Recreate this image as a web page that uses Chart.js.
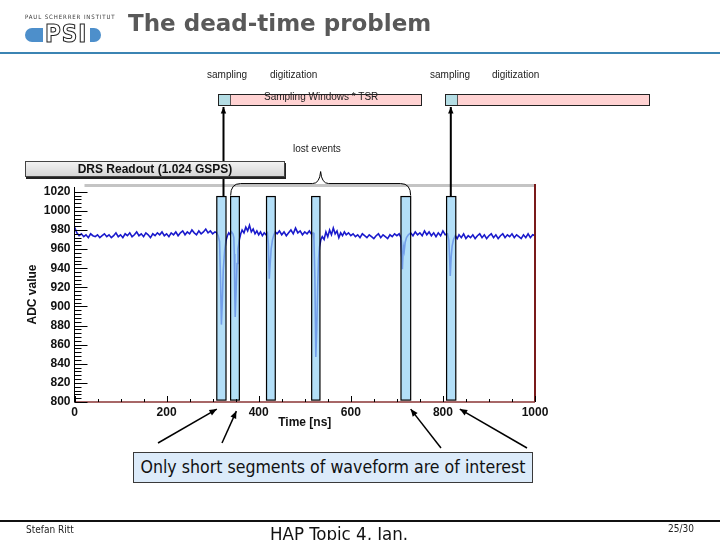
<!DOCTYPE html>
<html>
<head>
<meta charset="utf-8">
<script src="https://cdn.jsdelivr.net/npm/chart.js@4"></script>
<style>
  html, body { margin: 0; padding: 0; background: #fff; overflow: hidden; }
  #page { position: relative; width: 720px; height: 540px; overflow: hidden; font-family: "Liberation Sans", Arial, sans-serif; }
  #c { position: absolute; left: 0; top: 0; }
  .abs { position: absolute; white-space: nowrap; }
  .small { font-size: 10px; color: #222; }
  .bar { position: absolute; height: 10px; border: 1px solid #222; background: #ffd2d2; }
  .bar .seg { position: absolute; left: 0; top: 0; bottom: 0; width: 11px; background: #b4dde4; border-right: 1px solid #555; }
</style>
</head>
<body>
<div id="page">
  <canvas id="c" width="720" height="540"></canvas>

  <!-- header -->
  <div class="abs" style="left:25px;top:13px;font-size:6px;letter-spacing:0.9px;color:#333;font-family:'DejaVu Sans Condensed','DejaVu Sans';">PAUL SCHERRER INSTITUT</div>
  <div class="abs" style="left:25px;top:28px;width:76px;height:14px;border-radius:7px;background:#4d8fcb;"></div>
  <div class="abs" style="left:43px;top:23px;width:47px;height:22px;background:#fff;"></div>
  <div class="abs" style="left:45px;top:20px;font:bold 24px 'DejaVu Sans Condensed','DejaVu Sans';letter-spacing:1px;color:#fff;-webkit-text-stroke:1px #222;">PSI</div>
  <div class="abs" style="left:128px;top:10px;font:bold 23px 'DejaVu Sans';color:#595959;">The dead-time problem</div>
  <div class="abs" style="left:0;top:52px;width:720px;height:2px;background:#3b84b3;"></div>

  <!-- timeline -->
  <div class="abs small" style="left:207px;top:69px;">sampling</div>
  <div class="abs small" style="left:270px;top:69px;">digitization</div>
  <div class="abs small" style="left:430px;top:69px;">sampling</div>
  <div class="abs small" style="left:492px;top:69px;">digitization</div>
  <div class="bar" style="left:218px;top:94px;width:202px;"><div class="seg"></div></div>
  <div class="abs small" style="left:264px;top:91px;">Sampling Windows * TSR</div>
  <div class="bar" style="left:445px;top:94px;width:203px;"><div class="seg"></div></div>
  <div class="abs small" style="left:293px;top:143px;">lost events</div>

  <!-- histogram title box -->
  <div class="abs" style="left:25px;top:161px;width:258px;height:14px;background:linear-gradient(#f2f2f2,#d6d6d6);border:1px solid #444;box-shadow:1px 2px 0 #222;text-align:center;font:bold 12px 'Liberation Sans';line-height:14px;color:#111;">DRS Readout (1.024 GSPS)</div>

  <!-- callout -->
  <div class="abs" style="left:133px;top:452px;width:398px;height:29px;background:#dcebfa;border:1px solid #3a3a3a;text-align:center;font:17.6px 'DejaVu Sans Condensed','DejaVu Sans';line-height:29px;color:#111;">Only short segments of waveform are of interest</div>

  <!-- footer -->
  <div class="abs" style="left:0;top:520px;width:720px;height:1.5px;background:#111;"></div>
  <div class="abs" style="left:26px;top:524px;font:10px 'DejaVu Sans Condensed','DejaVu Sans';color:#222;">Stefan Ritt</div>
  <div class="abs" style="left:270px;top:523px;font:18.5px 'DejaVu Sans Condensed','DejaVu Sans';color:#111;">HAP Topic 4, Jan.</div>
  <div class="abs" style="left:668px;top:523px;font:10px 'DejaVu Sans Condensed','DejaVu Sans';color:#222;">25/30</div>
</div>

<script>
// waveform (time in ns, ADC counts)
const times = [0, 5, 10, 15, 20, 25, 30, 35, 40, 45,
  50, 55, 60, 65, 70, 75, 80, 85, 90, 95,
  100, 105, 110, 115, 120, 125, 130, 135, 140, 145,
  150, 155, 160, 165, 170, 175, 180, 185, 190, 195,
  200, 205, 210, 215, 220, 225, 230, 235, 240, 245,
  250, 255, 260, 265, 270, 275, 280, 285, 290, 295,
  300, 305,
  309, 312, 315, 317, 319, 321, 323, 326, 329, 332, 335,
  338, 341,
  344, 346, 347, 348, 349, 351, 353, 355, 358, 361, 364,
  368, 372, 376, 380, 384, 388, 392, 396, 400, 404, 408, 412, 416, 419,
  421, 423, 425, 427, 430, 433, 436,
  440, 445, 450, 455, 460, 465, 470, 475, 480, 485, 490, 495, 500, 505, 510, 514, 518,
  520, 522, 524, 526, 528, 530, 532, 535, 538,
  542, 546, 550, 554, 558, 562, 566, 570, 574, 578, 582, 586, 590, 595, 600, 605, 610, 615, 620, 625,
  630, 635, 640, 645, 650, 655, 660, 665, 670, 675, 680, 685, 690, 695, 700, 705,
  709, 710, 712, 714, 716, 718, 721, 725,
  730, 735, 740, 745, 750, 755, 760, 765, 770, 775, 780, 785, 790, 795, 800, 805, 810,
  813, 815, 816, 818, 820, 823, 827,
  831, 835, 840, 845, 850, 855, 860, 865, 870, 875, 880,
  885, 890, 895, 900, 905, 910, 915, 920, 925, 930,
  935, 940, 945, 950, 955, 960, 965, 970, 975, 980,
  985, 990, 995, 1000];

const adc = [983, 977, 974, 976, 973, 975, 972, 976, 974, 973,
  975, 972, 974, 976, 973, 975, 972, 974, 977, 973,
  975, 972, 976, 974, 977, 973, 975, 978, 974, 976,
  973, 977, 975, 972, 976, 974, 977, 975, 978, 974,
  976, 973, 977, 975, 978, 974, 977, 979, 975, 978,
  976, 980, 977, 975, 979, 976, 978, 981, 977, 979,
  976, 978,
  977, 974, 968, 930, 881, 905, 938, 958, 969, 974, 977,
  975, 978,
  976, 972, 955, 915, 889, 918, 945, 960, 970, 976, 980,
  977, 983, 979, 985, 978, 981, 976, 979, 975, 978, 974, 977, 975, 977,
  965, 929, 945, 960, 970, 975, 978,
  976, 979, 975, 978, 974, 977, 980, 976, 982, 977, 979, 975, 978, 976, 979, 976, 977,
  970, 930, 847, 875, 920, 950, 962, 970, 973,
  970, 978, 973, 980, 975, 982, 976, 979, 972, 977, 974, 978, 975, 977, 974, 976, 973, 975, 972, 976,
  974, 972, 975, 973, 971, 974, 976, 972, 975, 973, 971, 975, 973, 976, 974, 976,
  972, 958, 939, 963, 958, 967, 972, 975,
  977, 974, 978, 975, 977, 974, 979, 975, 978, 974, 977, 973, 977, 974, 979, 975, 976,
  969, 945, 932, 952, 963, 970, 974,
  971, 975, 972, 976, 971, 974, 972, 975, 971, 974, 976,
  972, 975, 971, 974, 976, 972, 975, 971, 974, 976,
  972, 975, 973, 976, 972, 975, 973, 971, 975, 972,
  976, 972, 975, 974];

// readout windows (ns)
const winStart = [309, 339, 417, 515, 709, 808];
const winEnd = [329, 358, 436, 533, 730, 828];

const xTicks = [0, 200, 400, 600, 800, 1000];
const yTicks = [800, 820, 840, 860, 880, 900, 920, 940, 960, 980, 1000, 1020];

const tickFont = { family: 'Liberation Sans', size: 12, weight: 'bold' };

function arrow(ctx, x0, y0, x1, y1, h) {
  ctx.beginPath();
  ctx.moveTo(x0, y0);
  ctx.lineTo(x1, y1);
  ctx.stroke();
  const ang = Math.atan2(y1 - y0, x1 - x0);
  ctx.beginPath();
  ctx.moveTo(x1, y1);
  ctx.lineTo(x1 - h * Math.cos(ang - 0.4), y1 - h * Math.sin(ang - 0.4));
  ctx.lineTo(x1 - h * Math.cos(ang + 0.4), y1 - h * Math.sin(ang + 0.4));
  ctx.closePath();
  ctx.fill();
}

const overlay = {
  id: 'drsOverlay',
  afterDatasetsDraw(chart) {
    const { ctx, chartArea: a, scales: { x, y } } = chart;
    ctx.save();

    // readout windows on top of the trace
    const top = y.getPixelForValue(1015), bot = y.getPixelForValue(802);
    for (let i = 0; i < winStart.length; i++) {
      const x0 = x.getPixelForValue(winStart[i]);
      const x1 = x.getPixelForValue(winEnd[i]);
      ctx.fillStyle = 'rgba(150,210,245,0.72)';
      ctx.fillRect(x0, top, x1 - x0, bot - top);
      ctx.strokeStyle = '#000';
      ctx.lineWidth = 1.2;
      ctx.strokeRect(x0, top, x1 - x0, bot - top);
    }

    // frame (ROOT style)
    ctx.strokeStyle = '#c4c4c4';
    ctx.lineWidth = 3;
    ctx.beginPath(); ctx.moveTo(a.left + 10, a.top - 1.5); ctx.lineTo(a.right, a.top - 1.5); ctx.stroke();
    ctx.strokeStyle = '#7a1a1a';
    ctx.lineWidth = 2;
    ctx.beginPath(); ctx.moveTo(a.right, a.top - 3); ctx.lineTo(a.right, a.bottom); ctx.stroke();
    ctx.strokeStyle = '#8a3535';
    ctx.lineWidth = 1.5;
    ctx.beginPath(); ctx.moveTo(a.left, a.bottom); ctx.lineTo(a.right, a.bottom); ctx.stroke();
    ctx.strokeStyle = '#000';
    ctx.lineWidth = 1;
    ctx.beginPath(); ctx.moveTo(a.left, a.top); ctx.lineTo(a.left, a.bottom); ctx.stroke();

    // inward ticks
    ctx.beginPath();
    for (let v = yTicks[0]; v <= yTicks[yTicks.length - 1]; v += 4) {
      const py = Math.round(y.getPixelForValue(v)) + 0.5;
      ctx.moveTo(a.left, py);
      ctx.lineTo(a.left + (v % 20 === 0 ? 13 : 7), py);
    }
    for (let v = xTicks[0]; v <= xTicks[xTicks.length - 1]; v += 50) {
      const px = Math.round(x.getPixelForValue(v)) + 0.5;
      ctx.moveTo(px, a.bottom);
      ctx.lineTo(px, a.bottom - (v % 200 === 0 ? 6 : 3));
    }
    ctx.stroke();
    ctx.restore();
  },
  afterDraw(chart) {
    const { ctx, scales: { x, y } } = chart;
    const top = y.getPixelForValue(1015), bot = y.getPixelForValue(802);
    ctx.save();
    ctx.strokeStyle = '#000';
    ctx.fillStyle = '#000';

    // sampling windows -> readout boxes
    ctx.lineWidth = 2;
    arrow(ctx, 223.5, top, 223.5, 107, 7);
    arrow(ctx, 450.8, top, 450.8, 107, 7);

    // brace over the lost events
    const bx0 = x.getPixelForValue(winStart[1]);
    const bx1 = x.getPixelForValue(winEnd[4]);
    const mid = (bx0 + bx1) / 2;
    const hy = top - 13;
    ctx.lineWidth = 1;
    ctx.beginPath();
    ctx.moveTo(bx0, top - 1);
    ctx.quadraticCurveTo(bx0, hy, bx0 + 10, hy);
    ctx.lineTo(mid - 8, hy);
    ctx.quadraticCurveTo(mid - 1, hy, mid, hy - 12);
    ctx.quadraticCurveTo(mid + 1, hy, mid + 8, hy);
    ctx.lineTo(bx1 - 10, hy);
    ctx.quadraticCurveTo(bx1, hy, bx1, top - 1);
    ctx.stroke();

    // callout arrows
    ctx.lineWidth = 1.5;
    arrow(ctx, 158, 443, x.getPixelForValue(winStart[0]), bot + 9, 8);
    arrow(ctx, 222, 443, x.getPixelForValue(winEnd[1]) - 3, bot + 11, 8);
    arrow(ctx, 441, 448, x.getPixelForValue(winEnd[4]), bot + 9, 8);
    arrow(ctx, 527, 448, x.getPixelForValue(winEnd[5]) + 4, bot + 9, 8);
    ctx.restore();
  }
};

new Chart(document.getElementById('c').getContext('2d'), {
  type: 'line',
  data: {
    datasets: [{
      label: 'DRS Readout',
      data: times.map((t, i) => ({ x: t, y: adc[i] })),
      borderColor: '#1a1acc',
      borderWidth: 1.6,
      pointRadius: 0,
      tension: 0,
      fill: false
    }]
  },
  options: {
    responsive: false,
    animation: false,
    devicePixelRatio: 1,
    layout: { padding: { left: 20.5, right: 185, top: 187, bottom: 98 } },
    plugins: { legend: { display: false }, tooltip: { enabled: false } },
    scales: {
      x: {
        type: 'linear',
        min: 0,
        max: 1000,
        afterBuildTicks: s => { s.ticks = xTicks.map(v => ({ value: v })); },
        afterFit: s => { s.height = 40; },
        grid: { display: false, drawTicks: false },
        border: { display: false },
        ticks: { padding: 3, font: tickFont, color: '#111', maxRotation: 0, autoSkip: false, callback: v => String(v) },
        title: { display: true, text: 'Time [ns]', font: tickFont, color: '#111', padding: { top: 0, bottom: 12 } }
      },
      y: {
        type: 'linear',
        min: 800,
        max: 1025,
        afterBuildTicks: s => { s.ticks = yTicks.map(v => ({ value: v })); },
        afterFit: s => { s.width = 54; },
        grid: { display: false, drawTicks: false },
        border: { display: false },
        ticks: { padding: 4, font: tickFont, color: '#111', autoSkip: false, callback: v => String(v) },
        title: { display: true, text: 'ADC value', font: tickFont, color: '#111', padding: { top: 5, bottom: 0 } }
      }
    }
  },
  plugins: [overlay]
});
</script>
</body>
</html>
